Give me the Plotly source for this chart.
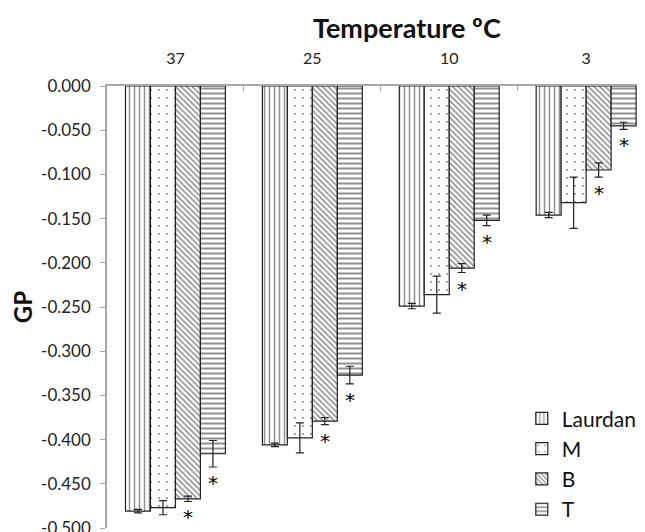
import plotly.graph_objects as go

temps = ["37", "25", "10", "3"]
series = ["Laurdan", "M", "B", "T"]
laurdan = [-0.481, -0.406, -0.249, -0.146]
laurdan_err = [0.002, 0.002, 0.003, 0.003]
m_vals = [-0.477, -0.398, -0.236, -0.132]
m_err = [0.008, 0.017, 0.021, 0.029]
b_vals = [-0.467, -0.379, -0.206, -0.095]
b_err = [0.003, 0.004, 0.005, 0.008]
t_vals = [-0.416, -0.327, -0.152, -0.045]
t_err = [0.015, 0.010, 0.006, 0.004]
starred = ["B", "T"]
y_tick_vals = [0.0, -0.05, -0.10, -0.15, -0.20, -0.25, -0.30, -0.35, -0.40, -0.45, -0.50]
y_tick_text = ["0.000", "-0.050", "-0.100", "-0.150", "-0.200", "-0.250",
               "-0.300", "-0.350", "-0.400", "-0.450", "-0.500"]

values = {"Laurdan": laurdan, "M": m_vals, "B": b_vals, "T": t_vals}
errors = {"Laurdan": laurdan_err, "M": m_err, "B": b_err, "T": t_err}
patterns = {
    "Laurdan": dict(shape="|", size=5, solidity=0.3, fgcolor="#222222", bgcolor="white"),
    "M": dict(shape=".", size=8, solidity=0.06, fgcolor="#222222", bgcolor="white"),
    "B": dict(shape="\\", size=4, solidity=0.4, fgcolor="#222222", bgcolor="white"),
    "T": dict(shape="-", size=5, solidity=0.4, fgcolor="#222222", bgcolor="white"),
}

fig = go.Figure()
for s in series:
    fig.add_trace(go.Bar(
        name=s, x=temps, y=values[s],
        marker=dict(color="white", pattern=patterns[s], line=dict(color="#222222", width=1.2)),
        error_y=dict(type="data", array=errors[s], color="#222222", thickness=1.2, width=4),
    ))

bar_px = 25
for si, s in enumerate(series):
    if s not in starred:
        continue
    shift = (si - 1.5) * bar_px
    for ci, (v, e) in enumerate(zip(values[s], errors[s])):
        fig.add_annotation(x=ci, y=v - e, xref="x", yref="y", text="*", showarrow=False,
                           xshift=shift, yanchor="top", yshift=-2,
                           font=dict(family="DejaVu Sans", size=20, color="#000000"))

fig.add_annotation(text="<b>Temperature ºC</b>", xref="paper", yref="paper",
                   x=0.558, y=1, yshift=59, xanchor="center", yanchor="middle",
                   showarrow=False, font=dict(size=27, color="#111111"))

fig.update_layout(
    width=637, height=524,
    margin=dict(l=99, r=0, t=78, b=4),
    plot_bgcolor="white", paper_bgcolor="white",
    font=dict(family="Lato", size=17, color="#222222"),
    barmode="group", bargap=0.27, bargroupgap=0,
    legend=dict(x=0.771, y=-0.005, xanchor="left", yanchor="bottom",
                font=dict(size=21, color="#111111"), tracegroupgap=0, itemwidth=30),
    xaxis=dict(side="top", range=[-0.5, 3.43], showline=True, linecolor="#a6a6a6", linewidth=1.5,
               ticks="inside", tickson="boundaries", ticklen=5, tickcolor="#a6a6a6",
               automargin=False, ticklabelstandoff=14, tickfont=dict(size=16)),
    yaxis=dict(range=[-0.5, 0], tickvals=y_tick_vals, ticktext=y_tick_text, showline=True,
               linecolor="#a6a6a6", linewidth=1.5, ticks="outside", ticklen=5, tickcolor="#a6a6a6",
               showgrid=False, zeroline=False, automargin=False, ticklabelstandoff=6,
               ticklabeloverflow="allow",
               title=dict(text="<b>GP</b>", font=dict(size=24, color="#111111"), standoff=12),
               tickfont=dict(size=17)),
)
fig.write_html("out.html")
